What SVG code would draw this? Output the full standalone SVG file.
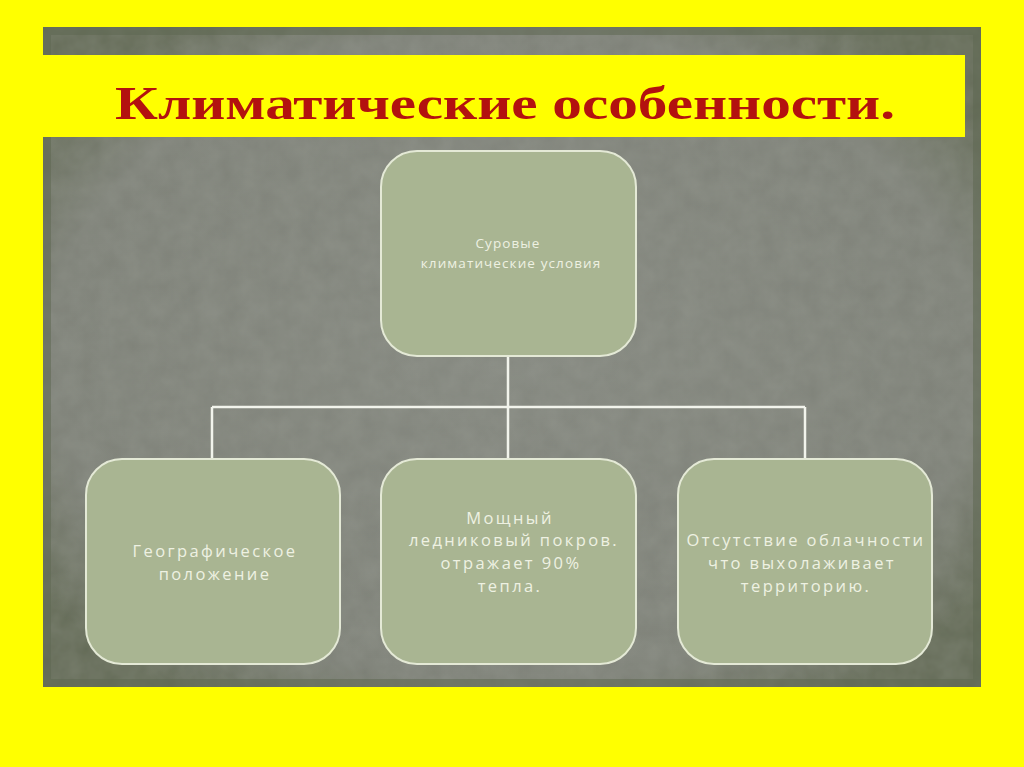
<svg xmlns="http://www.w3.org/2000/svg" width="1024" height="767" viewBox="0 0 1024 767">
<defs>
<radialGradient id="pg" cx="50%" cy="50%" r="62%">
<stop offset="0" stop-color="#84877f"/>
<stop offset="0.8" stop-color="#7e8178"/>
<stop offset="1" stop-color="#646b57"/>
</radialGradient>
<filter id="tex" x="0" y="0" width="100%" height="100%">
<feTurbulence type="fractalNoise" baseFrequency="0.05" numOctaves="3" seed="4" result="n"/>
<feColorMatrix in="n" type="matrix" values="0 0 0 0 0.42  0 0 0 0 0.44  0 0 0 0 0.39  0 0 0 0.25 0" result="c"/>
<feComposite in="c" in2="SourceGraphic" operator="in"/>
</filter>
<style>
.node rect{fill:#a9b592;stroke:#e4e9d6;stroke-width:2}
.node text{font-family:"Open Sans","DejaVu Sans",sans-serif;fill:#eef1e2;text-anchor:middle}
.top text{font-size:13.5px;letter-spacing:1.1px}
.bot text{font-size:16.5px;letter-spacing:2.4px}
.conn{stroke:#f2f4ec;stroke-width:2.5;fill:none}
</style>
</defs>
<rect width="1024" height="767" fill="#ffff00"/>
<g id="panel">
<rect x="43" y="27" width="938" height="660" fill="url(#pg)"/>
<rect x="43" y="27" width="938" height="660" fill="#7a7d74" filter="url(#tex)"/>
<rect x="47" y="31" width="930" height="652" fill="none" stroke="#5f6752" stroke-width="8" opacity="0.55"/>
</g>
<g id="title">
<rect x="43" y="55" width="922" height="82" fill="#ffff00"/>
<text x="505" y="119" font-family="'Liberation Serif','DejaVu Serif',serif" font-weight="bold" font-size="46" fill="#b3120f" text-anchor="middle" textLength="780" lengthAdjust="spacingAndGlyphs">Климатические особенности.</text>
</g>
<g id="connectors">
<path class="conn" d="M508 356 V407 M212 407 H805 M212 407 V459 M508 407 V459 M805 407 V459"/>
</g>
<g id="node-top" class="node top">
<rect x="381" y="151" width="255" height="205" rx="36"/>
<text x="508" y="248">Суровые</text>
<text x="511" y="268">климатические условия</text>
</g>
<g id="node-geo" class="node bot">
<rect x="86" y="459" width="254" height="205" rx="36"/>
<text x="215" y="557">Географическое</text>
<text x="215" y="580">положение</text>
</g>
<g id="node-ice" class="node bot">
<rect x="381" y="459" width="255" height="205" rx="36"/>
<text x="510" y="524">Мощный</text>
<text x="514" y="546">ледниковый покров.</text>
<text x="511" y="569">отражает 90%</text>
<text x="510" y="592">тепла.</text>
</g>
<g id="node-cloud" class="node bot">
<rect x="678" y="459" width="254" height="205" rx="36"/>
<text x="806" y="546">Отсутствие облачности</text>
<text x="802" y="569">что выхолаживает</text>
<text x="806" y="592">территорию.</text>
</g>
</svg>
